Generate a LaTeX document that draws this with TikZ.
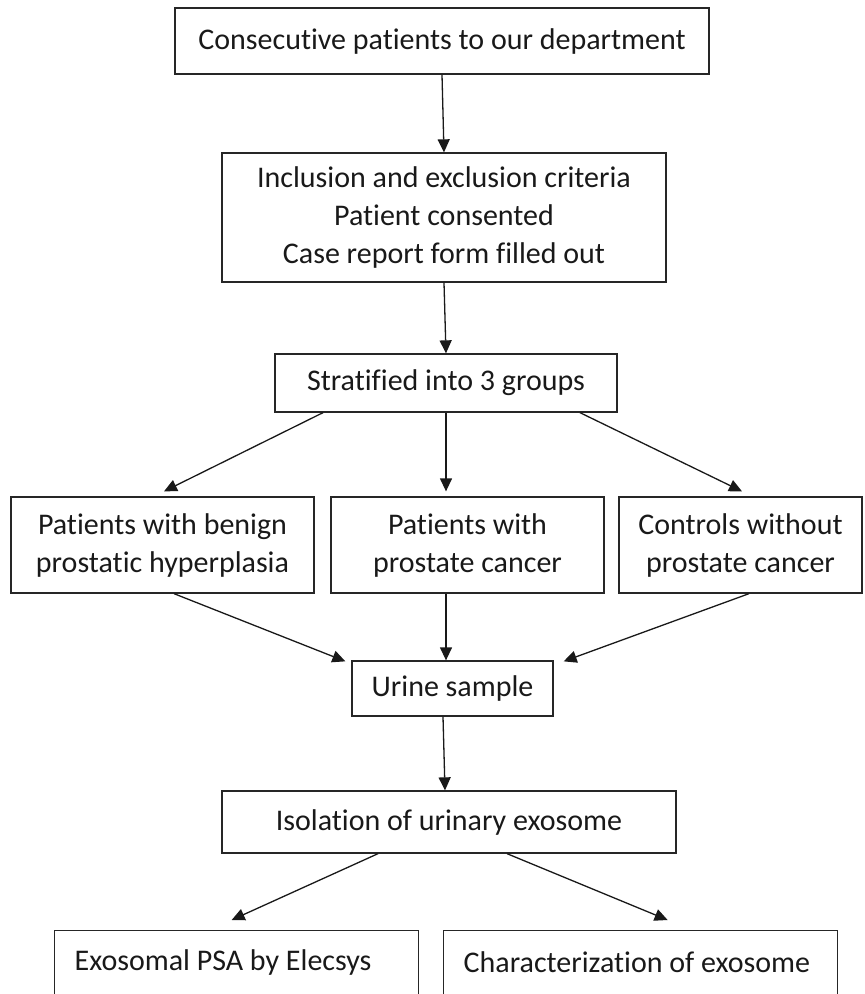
\documentclass[tikz,border=0pt]{standalone}
\usepackage{fontspec}
\setmainfont{Carlito}[Ligatures=NoCommon]
\usetikzlibrary{arrows.meta}
\begin{document}
\begin{tikzpicture}[x=1pt,y=-1pt,
  box/.style={draw=black!85, line width=1.3pt, inner sep=0pt, align=center,
    font=\fontsize{30pt}{38pt}\selectfont, text=black!90},
  leftbox/.style={box, align=flush left, inner xsep=20pt, anchor=north west},
  arr/.style={draw=black!90, line width=1.3pt, -{Triangle[length=13pt,width=12pt]}}
]
\useasboundingbox (0,0) rectangle (865,994);
\clip (0,0) rectangle (865,994);
\node[box, minimum width=534pt, minimum height=66pt] (b1) at (442,41) {Consecutive patients to our department};
\node[box, minimum width=444pt, minimum height=129pt] (b2) at (444,217.5) {Inclusion and exclusion criteria\\Patient consented\\Case report form filled out};
\node[box, minimum width=342pt, minimum height=58pt] (b3) at (446,383) {Stratified into 3 groups};
\node[box, minimum width=303pt, minimum height=96pt] (bph) at (162.5,545) {Patients with benign\\prostatic hyperplasia};
\node[box, minimum width=273pt, minimum height=96pt] (pca) at (467.5,545) {Patients with\\prostate cancer};
\node[box, minimum width=243pt, minimum height=96pt] (ctl) at (740.5,545) {Controls without\\prostate cancer};
\node[box, minimum width=201pt, minimum height=55pt] (urine) at (452.5,688.5) {Urine sample};
\node[box, minimum width=454pt, minimum height=62pt] (iso) at (449,822) {Isolation of urinary exosome};
\node[leftbox, text width=324pt, minimum height=64pt] (exo) at (54,930) {Exosomal PSA by Elecsys};
\node[leftbox, text width=354pt, minimum height=64pt] (char) at (443,930) {Characterization of exosome};
\draw[arr] (b1.south) -- (b2.north);
\draw[arr] (b2.south) -- (b3.north);
\draw[arr] ([xshift=-123pt]b3.south) -- ([xshift=1.5pt,yshift=5pt]bph.north);
\draw[arr] (b3.south) -- ([xshift=-21.5pt,yshift=5pt]pca.north);
\draw[arr] ([xshift=134pt]b3.south) -- ([xshift=1.5pt,yshift=5pt]ctl.north);
\draw[arr] ([xshift=11.5pt]bph.south) -- ([xshift=-6pt,yshift=-1pt]urine.north west);
\draw[arr] ([xshift=-21.5pt]pca.south) -- ([xshift=-6.5pt]urine.north);
\draw[arr] ([xshift=8.5pt]ctl.south) -- ([xshift=10pt,yshift=-1pt]urine.north east);
\draw[arr] ([xshift=-9.5pt]urine.south) -- ([xshift=-4pt]iso.north);
\draw[arr] ([xshift=-71pt]iso.south) -- ([xshift=-5pt,yshift=10pt]exo.north);
\draw[arr] ([xshift=58pt]iso.south) -- ([xshift=27pt,yshift=10pt]char.north);
\end{tikzpicture}
\end{document}
